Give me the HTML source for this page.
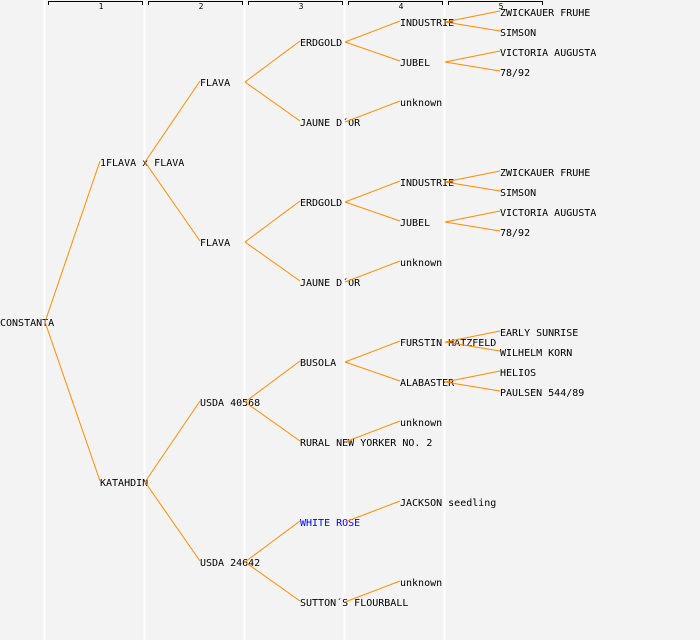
<!DOCTYPE html>
<html><head><meta charset="utf-8"><style>
html,body{margin:0;padding:0;background:#f3f3f3;}
svg{display:block}
text{font-family:"DejaVu Sans Mono","Liberation Mono",monospace;font-size:10px;fill:#000}
</style></head><body>
<svg width="700" height="640" xmlns="http://www.w3.org/2000/svg">
<rect width="700" height="640" fill="#f3f3f3"/>
<g stroke="#ffffff" stroke-width="2">
<line x1="44.5" y1="0" x2="44.5" y2="640"/><line x1="144.5" y1="0" x2="144.5" y2="640"/>
<line x1="244.5" y1="0" x2="244.5" y2="640"/><line x1="344.5" y1="0" x2="344.5" y2="640"/>
<line x1="444.5" y1="0" x2="444.5" y2="640"/>
</g>
<g stroke="#000" fill="none" stroke-width="1">
<path d="M48.5 5V1.5H142.5V5"/><path d="M148.5 5V1.5H242.5V5"/><path d="M248.5 5V1.5H342.5V5"/>
<path d="M348.5 5V1.5H442.5V5"/><path d="M448.5 5V1.5H542.5V5"/>
</g>
<g text-anchor="middle">
<text x="101" y="9" style="font-size:8px">1</text><text x="201" y="9" style="font-size:8px">2</text>
<text x="301" y="9" style="font-size:8px">3</text><text x="401" y="9" style="font-size:8px">4</text>
<text x="501" y="9" style="font-size:8px">5</text>
</g>
<g>
<text x="0" y="326">CONSTANTA</text>
<text x="100" y="166">1FLAVA x FLAVA</text>
<text x="100" y="486">KATAHDIN</text>
<text x="200" y="86">FLAVA</text>
<text x="200" y="246">FLAVA</text>
<text x="200" y="406">USDA 40568</text>
<text x="200" y="566">USDA 24642</text>
<text x="300" y="46">ERDGOLD</text>
<text x="300" y="126">JAUNE D´OR</text>
<text x="300" y="206">ERDGOLD</text>
<text x="300" y="286">JAUNE D´OR</text>
<text x="300" y="366">BUSOLA</text>
<text x="300" y="446">RURAL NEW YORKER NO. 2</text>
<text x="300" y="526" style="fill:#0000ff">WHITE ROSE</text>
<text x="300" y="606">SUTTON´S FLOURBALL</text>
<text x="400" y="26">INDUSTRIE</text>
<text x="400" y="66">JUBEL</text>
<text x="400" y="106">unknown</text>
<text x="400" y="186">INDUSTRIE</text>
<text x="400" y="226">JUBEL</text>
<text x="400" y="266">unknown</text>
<text x="400" y="346">FURSTIN HATZFELD</text>
<text x="400" y="386">ALABASTER</text>
<text x="400" y="426">unknown</text>
<text x="400" y="506">JACKSON seedling</text>
<text x="400" y="586">unknown</text>
<text x="500" y="16">ZWICKAUER FRUHE</text>
<text x="500" y="36">SIMSON</text>
<text x="500" y="56">VICTORIA AUGUSTA</text>
<text x="500" y="76">78/92</text>
<text x="500" y="176">ZWICKAUER FRUHE</text>
<text x="500" y="196">SIMSON</text>
<text x="500" y="216">VICTORIA AUGUSTA</text>
<text x="500" y="236">78/92</text>
<text x="500" y="336">EARLY SUNRISE</text>
<text x="500" y="356">WILHELM KORN</text>
<text x="500" y="376">HELIOS</text>
<text x="500" y="396">PAULSEN 544/89</text>
</g>
<g stroke="#ff8c00" stroke-width="1" fill="none">
<path d="M45 322L100 161M45 322L100 481"/>
<path d="M145 162L200 81M145 162L200 241M145 482L200 401M145 482L200 561"/>
<path d="M245 82L300 41M245 82L300 121M245 242L300 201M245 242L300 281M245 402L300 361M245 402L300 441M245 562L300 521M245 562L300 601"/>
<path d="M345 42L400 21M345 42L400 61M345 122L400 101M345 202L400 181M345 202L400 221M345 282L400 261M345 362L400 341M345 362L400 381M345 442L400 421M345 522L400 501M345 602L400 581"/>
<path d="M445 22L500 11M445 22L500 31M445 62L500 51M445 62L500 71M445 182L500 171M445 182L500 191M445 222L500 211M445 222L500 231M445 342L500 331M445 342L500 351M445 382L500 371M445 382L500 391"/>
</g>
</svg>
</body></html>
